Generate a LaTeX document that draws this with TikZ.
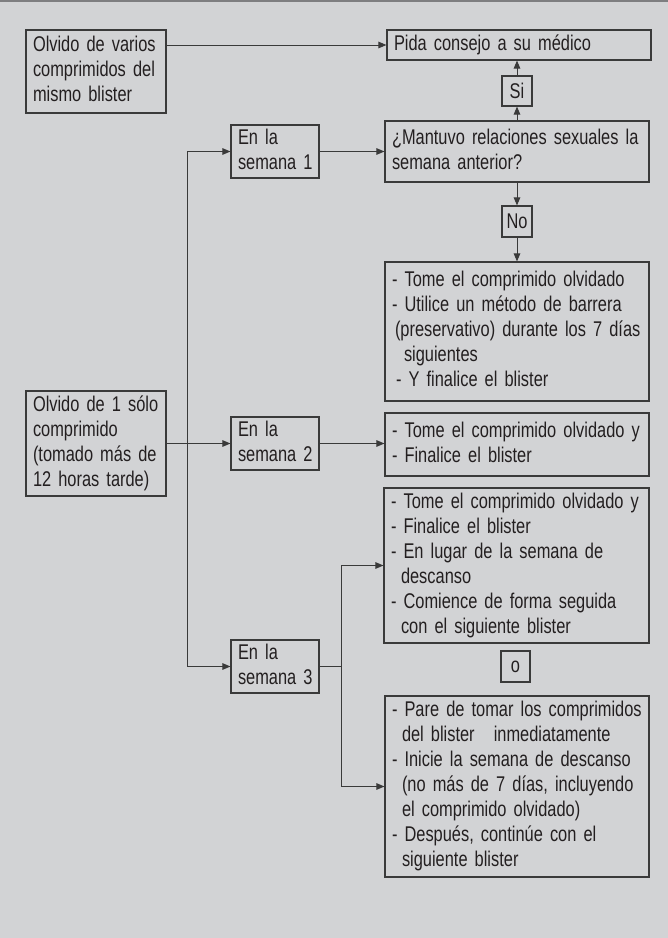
\documentclass[tikz,border=0pt]{standalone}
\usepackage{fontspec}
\setmainfont{Liberation Sans}[FakeStretch=0.77]
\usetikzlibrary{arrows.meta,calc}
\definecolor{bgc}{HTML}{D2D3D5}
\definecolor{linec}{HTML}{3A3A3A}
\definecolor{txtc}{HTML}{231F20}
\definecolor{topc}{HTML}{7E7E80}
\newcommand{\bodyfont}{\fontsize{21.3}{25}\selectfont}
\newcommand{\lns}[1]{\begin{tabular}{@{}l@{}}#1\end{tabular}}
\begin{document}
\begin{tikzpicture}[x=1pt,y=-1pt,
  box/.style={draw=linec, line width=1.1pt, rectangle, inner xsep=7pt, inner ysep=0pt,
    align=left, font=\bodyfont, text=txtc},
  tag/.style={draw=linec, line width=1.1pt, rectangle, inner sep=0pt,
    align=center, font=\bodyfont, text=txtc},
  conn/.style={draw=linec, line width=1pt},
  arr/.style={conn, -{Triangle[length=8pt,width=6.5pt]}}]
\useasboundingbox (0,0) rectangle (668,938);
\fill[bgc] (0,0) rectangle (668,938);
\draw[topc, line width=1.6pt] (0,0.8) -- (668,0.8);

% boxes
\node[box, text width=126pt, minimum height=83pt] (A) at (96,71.5)
  {\lns{Olvido de varios\\comprimidos del\\mismo blister}};
\node[box, text width=250pt, minimum height=30pt] (P) at (519,45)
  {\lns{Pida consejo a su médico}};
\node[tag, minimum width=30pt, minimum height=30pt] (Si) at (517,91) {Si};
\node[box, text width=250pt, minimum height=61pt] (Q) at (517,151.5)
  {\lns{¿Mantuvo relaciones sexuales la\\semana anterior?}};
\node[box, text width=74pt, minimum height=53pt] (S1) at (275,151.5)
  {\lns{En la\\semana 1}};
\node[tag, minimum width=30pt, minimum height=31pt] (No) at (517,221.5) {No};
\node[box, text width=250pt, minimum height=139pt] (B1) at (517,331.5)
  {\lns{- Tome el comprimido olvidado\\
   - Utilice un método de barrera\\
   \hspace*{3pt}(preservativo) durante los 7 días\\
   \hspace*{12pt}siguientes\\
   \hspace*{4pt}- Y finalice el blister}};
\node[box, text width=126pt, minimum height=105pt] (M) at (96,443.5)
  {\lns{Olvido de 1 sólo\\comprimido\\(tomado más de\\12 horas tarde)}};
\node[box, text width=74pt, minimum height=53pt] (S2) at (275,443.5)
  {\lns{En la\\semana 2}};
\node[box, text width=250pt, minimum height=63pt] (B2) at (517,444.5)
  {\lns{- Tome el comprimido olvidado y\\- Finalice el blister}};
\node[box, text width=251pt, minimum height=155pt] (B3) at (516.5,565.5)
  {\lns{- Tome el comprimido olvidado y\\
   - Finalice el blister\\
   - En lugar de la semana de\\
   \hspace*{10pt}descanso\\
   - Comience de forma seguida\\
   \hspace*{10pt}con el siguiente blister}};
\node[tag, minimum width=29pt, minimum height=31pt] (O) at (515.5,666.5) {o};
\node[box, text width=74pt, minimum height=53pt] (S3) at (275,666.5)
  {\lns{En la\\semana 3}};
\node[box, text width=250pt, minimum height=181pt] (B4) at (517,786.5)
  {\lns{- Pare de tomar los comprimidos\\
   \hspace*{10pt}del blister\hspace*{12pt} inmediatamente\\
   - Inicie la semana de descanso\\
   \hspace*{10pt}(no más de 7 días, incluyendo\\
   \hspace*{10pt}el comprimido olvidado)\\
   - Después, continúe con el\\
   \hspace*{10pt}siguiente blister}};

% helper coordinates
\coordinate (trunk) at (187,0);
\coordinate (br) at (341,0);

% connectors
\draw[arr] (P.west -| A.east) -- (P.west);
\draw[arr] (Q.north -| Si.south) -- (Si.south);
\draw[arr] (Si.north) -- (Si.north |- P.south);
\draw[arr] (Q.south -| No.north) -- (No.north);
\draw[arr] (No.south) -- (No.south |- B1.north);
\draw[arr] (S1.east) -- (S1.east -| Q.west);
\draw[conn] (S1.west -| trunk) -- (S3.west -| trunk);
\draw[arr] (S1.west -| trunk) -- (S1.west);
\draw[arr] (S3.west -| trunk) -- (S3.west);
\draw[arr] (M.east) -- (M.east -| S2.west);
\draw[arr] (S2.east) -- (S2.east -| B2.west);
\draw[conn] (S3.east) -- (S3.east -| br);
\draw[conn] (br |- B3.west) -- (br |- B4.west);
\draw[arr] (br |- B3.west) -- (B3.west);
\draw[arr] (br |- B4.west) -- (B4.west);
\end{tikzpicture}
\end{document}
